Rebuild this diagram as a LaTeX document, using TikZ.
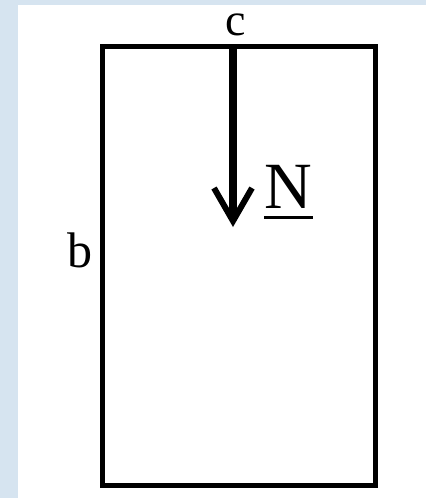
\documentclass[tikz,border=0pt]{standalone}
\usepackage{fontspec}
\setmainfont{Liberation Serif}
\definecolor{bgblue}{RGB}{214,228,240}
\begin{document}
\begin{tikzpicture}[x=1pt,y=-1pt,
  frame/.style={draw=black,line width=5pt},
  force/.style={line width=7.5pt},
  lbl/.style={inner sep=0pt,font=\fontsize{46}{55}\selectfont},
  big/.style={inner sep=0pt,font=\fontsize{66}{78}\selectfont}]
\useasboundingbox (0,0) rectangle (426,498);
\fill[bgblue] (0,0) rectangle (426,498);
\fill[white] (18,5) rectangle (426,498);
\coordinate (tl) at (102.5,46);
\coordinate (br) at (375.5,485.5);
\draw[frame] (tl) rectangle (br);
\node[lbl,anchor=base] (c) at (236,35) {c};
\node[lbl,anchor=base east,font=\fontsize{50}{60}\selectfont] (b) at (93,267) {b};
\node[big,anchor=base west] (N) at (264,208) {N};
\draw[line width=3pt] (N.base west) ++(0,9) coordinate (u1) -- ++(49,0) coordinate (u2);
\coordinate (a0) at (233,48.5);
\coordinate (a1) at (233,220);
\draw[force] (a0) -- (a1);
\draw[line width=6pt,line join=miter,miter limit=10] (214,188) -- (233,221) -- (252,188);
\end{tikzpicture}
\end{document}
